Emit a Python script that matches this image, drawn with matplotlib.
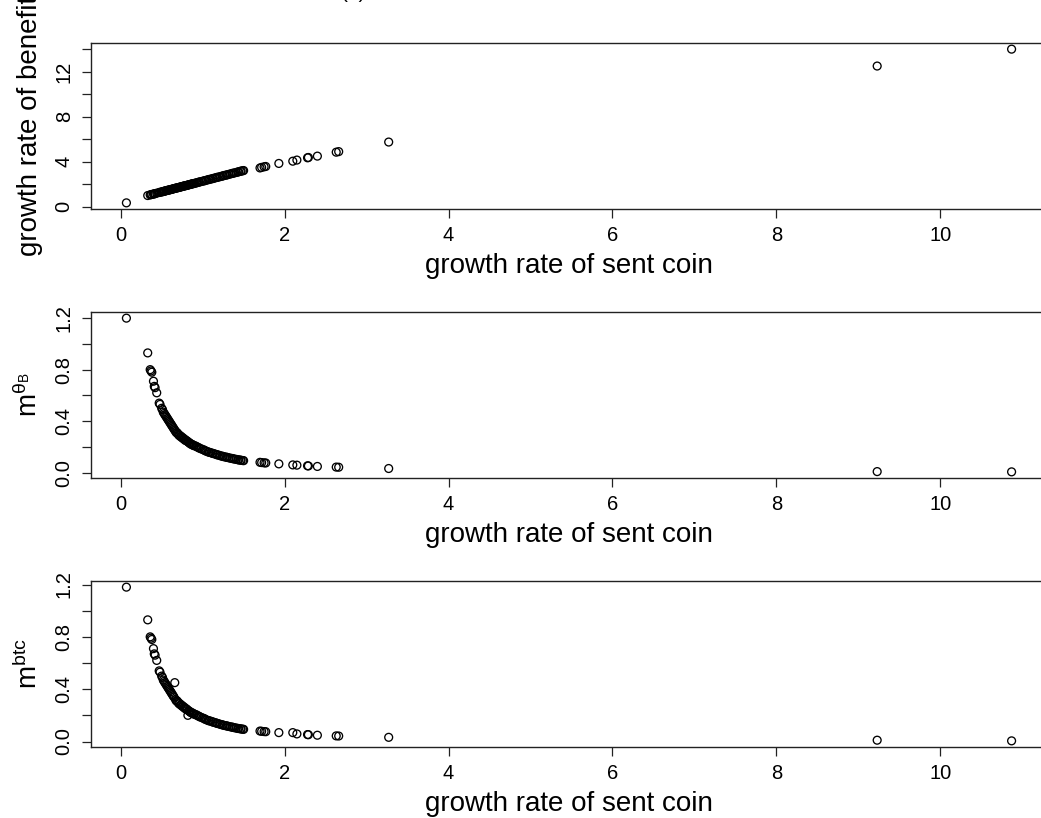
import matplotlib
matplotlib.use('Agg')
import matplotlib.pyplot as plt
from matplotlib.ticker import FixedLocator

plt.rcParams['font.family'] = ['Liberation Sans', 'DejaVu Sans']
plt.rcParams['mathtext.fontset'] = 'custom'
plt.rcParams['mathtext.rm'] = 'Liberation Sans'
plt.rcParams['mathtext.it'] = 'Liberation Sans'

# growth rate of sent coin (shared x)
sent_growth = [0.07, 0.33, 0.36, 0.37, 0.38, 0.40, 0.41, 0.42, 0.44, 0.47, 0.48,
               0.50, 0.51, 0.52, 0.53, 0.54, 0.55, 0.56, 0.57, 0.58, 0.59,
               0.60, 0.61, 0.62, 0.63, 0.64, 0.65, 0.66, 0.67, 0.68, 0.69,
               0.70, 0.71, 0.72, 0.73, 0.74, 0.75, 0.76, 0.77, 0.78, 0.79,
               0.80, 0.81, 0.82, 0.83, 0.84, 0.85, 0.86, 0.87, 0.88, 0.89, 0.90,
               0.92, 0.93, 0.95, 0.96, 0.98,
               1.00,
               1.02, 1.03, 1.05, 1.07, 1.08, 1.10,
               1.12, 1.13, 1.15, 1.17, 1.18, 1.20,
               1.22, 1.24, 1.25, 1.27, 1.29, 1.30,
               1.32, 1.34, 1.36, 1.37, 1.39, 1.41,
               1.43, 1.44, 1.46, 1.47, 1.49, 1.50,
               1.70, 1.72, 1.75, 1.77,
               1.93,
               2.10, 2.15, 2.28, 2.29, 2.40,
               2.63, 2.66,
               3.27,
               9.23, 10.87]

# growth rate of benefit
benefit_growth = [0.35, 1.00, 1.06, 1.08, 1.10, 1.13, 1.15, 1.17, 1.21, 1.27, 1.29,
                  1.32, 1.34, 1.36, 1.38, 1.40, 1.42, 1.44, 1.46, 1.48, 1.49,
                  1.51, 1.53, 1.55, 1.57, 1.59, 1.61, 1.63, 1.65, 1.67, 1.68,
                  1.70, 1.72, 1.74, 1.76, 1.78, 1.80, 1.82, 1.84, 1.86, 1.87,
                  1.89, 1.91, 1.93, 1.95, 1.97, 1.99, 2.01, 2.03, 2.05, 2.06, 2.08,
                  2.12, 2.14, 2.18, 2.20, 2.24,
                  2.27,
                  2.31, 2.33, 2.37, 2.41, 2.43, 2.46,
                  2.50, 2.52, 2.56, 2.60, 2.62, 2.65,
                  2.69, 2.73, 2.75, 2.79, 2.82, 2.84,
                  2.88, 2.92, 2.96, 2.98, 3.01, 3.05,
                  3.09, 3.11, 3.15, 3.17, 3.20, 3.22,
                  3.45, 3.50, 3.55, 3.58,
                  3.85,
                  4.05, 4.15, 4.35, 4.38, 4.50,
                  4.85, 4.90,
                  5.75,
                  12.5, 14.0]

m_theta = [1.20, 0.93, 0.80, 0.79, 0.78, 0.71, 0.67, 0.66, 0.62, 0.54, 0.53,
           0.50, 0.49, 0.47, 0.46, 0.45, 0.44, 0.43, 0.42, 0.41, 0.40,
           0.39, 0.38, 0.37, 0.36, 0.35, 0.34, 0.33, 0.32, 0.31, 0.31,
           0.30, 0.29, 0.29, 0.28, 0.28, 0.27, 0.27, 0.26, 0.26, 0.25,
           0.25, 0.245, 0.24, 0.235, 0.23, 0.225, 0.22, 0.22, 0.215, 0.21, 0.21,
           0.205, 0.20, 0.195, 0.19, 0.185,
           0.18,
           0.175, 0.17, 0.165, 0.16, 0.158, 0.155,
           0.15, 0.148, 0.145, 0.14, 0.138, 0.135,
           0.13, 0.128, 0.125, 0.122, 0.12, 0.118,
           0.115, 0.112, 0.11, 0.108, 0.105, 0.103,
           0.10, 0.099, 0.097, 0.096, 0.094, 0.093,
           0.080, 0.078, 0.076, 0.075,
           0.068,
           0.060, 0.058, 0.053, 0.052, 0.048,
           0.043, 0.042,
           0.032,
           0.008, 0.006]

m_btc = [1.18, 0.93, 0.80, 0.79, 0.78, 0.71, 0.67, 0.66, 0.62, 0.54, 0.53,
         0.50, 0.49, 0.47, 0.46, 0.45, 0.44, 0.43, 0.42, 0.41, 0.40,
         0.39, 0.38, 0.37, 0.36, 0.35, 0.34, 0.45, 0.32, 0.31, 0.31,
         0.30, 0.29, 0.29, 0.28, 0.28, 0.27, 0.27, 0.26, 0.26, 0.25,
         0.25, 0.245, 0.20, 0.235, 0.23, 0.225, 0.22, 0.22, 0.215, 0.21, 0.21,
         0.205, 0.20, 0.195, 0.19, 0.185,
         0.18,
         0.175, 0.17, 0.165, 0.16, 0.158, 0.155,
         0.15, 0.148, 0.145, 0.14, 0.138, 0.135,
         0.13, 0.128, 0.125, 0.122, 0.12, 0.118,
         0.115, 0.112, 0.11, 0.108, 0.105, 0.103,
         0.10, 0.099, 0.097, 0.096, 0.094, 0.093,
         0.080, 0.078, 0.076, 0.075,
         0.068,
         0.068, 0.058, 0.053, 0.052, 0.048,
         0.043, 0.042,
         0.032,
         0.010, 0.005]

x_ticks = [0, 2, 4, 6, 8, 10]
panels = [
    (benefit_growth, 'growth rate of benefit', list(range(0, 16, 2)), [0, 4, 8, 12], '{:g}'),
    (m_theta, r'$\mathrm{m}^{\theta_{\mathrm{B}}}$', [0, 0.2, 0.4, 0.6, 0.8, 1.0, 1.2], [0, 0.4, 0.8, 1.2], '{:.1f}'),
    (m_btc, r'$\mathrm{m}^{\mathrm{btc}}$', [0, 0.2, 0.4, 0.6, 0.8, 1.0, 1.2], [0, 0.4, 0.8, 1.2], '{:.1f}'),
]

W, H = 1041, 818
fig = plt.figure(figsize=(W / 100, H / 100), dpi=100)

# panel boxes in pixels: (top, bottom); right side runs past the image edge
boxes = [(43, 209), (312, 478), (581, 747)]
left_px, right_px = 91, 1047


def r_lim(v):
    lo, hi = min(v), max(v)
    d = (hi - lo) * 0.04
    return lo - d, hi + d


for (yv, ylab, yt, ylabelled, fmt), (top, bot) in zip(panels, boxes):
    ax = fig.add_axes([left_px / W, 1 - bot / H, (right_px - left_px) / W, (bot - top) / H])
    ax.scatter(sent_growth, yv, s=32, facecolors='none', edgecolors='black', linewidths=0.95)
    ax.set_xlim(*r_lim(sent_growth))
    ax.set_ylim(*r_lim(yv))
    for sp in ax.spines.values():
        sp.set_linewidth(1.0)
        sp.set_color('#222222')
    ax.xaxis.set_major_locator(FixedLocator(x_ticks))
    ax.set_xticklabels([str(t) for t in x_ticks])
    ax.yaxis.set_major_locator(FixedLocator(yt))
    ax.set_yticklabels([fmt.format(t) if any(abs(t - l) < 1e-9 for l in ylabelled) else '' for t in yt])
    ax.tick_params(length=6.5, width=0.9, pad=6, labelsize=14.5, color='#222222')
    ax.tick_params(axis='y', labelrotation=90)
    for lab in ax.get_yticklabels():
        lab.set_va('center')
    ax.set_xlabel('growth rate of sent coin', fontsize=20)
    ax.xaxis.set_label_coords(0.5, -0.265)
    ax.set_ylabel(ylab, fontsize=20)
    ax.yaxis.set_label_coords(-0.05, 0.5)

fig.text(341 / W, 1 + 1.5 / H, '(a)', fontsize=15, ha='left', va='baseline')

fig.savefig('out.png', dpi=100)
